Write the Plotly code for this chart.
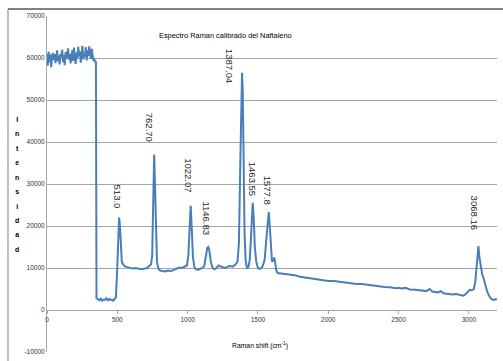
import plotly.graph_objects as go

# ---- data ----
plateau_x = list(range(0, 349, 6))
plateau_y = [61000, 58200, 61500, 59000, 60800, 57800, 60500, 61200, 59500, 60900,
             58800, 60300, 61800, 59200, 60600, 58500, 61000, 60200, 62000, 59000,
             60700, 58300, 61400, 59800, 60900, 62300, 59600, 61000, 58700, 60400,
             61900, 59300, 62500, 60100, 58600, 61300, 59900, 62700, 60400, 61600,
             58900, 60800, 62900, 59700, 61200, 60300, 62600, 59400, 61800, 60500,
             62800, 61000, 59800, 62200, 60600, 59300, 59800, 59000, 59200]

rest_x = [352, 362, 372, 382, 392, 402, 412, 422, 432, 442, 452, 462, 472, 482, 490,
          497, 505, 513, 519, 525, 532, 542, 555, 570, 590, 610, 630, 650, 670, 690,
          710, 725, 740, 748, 755, 762, 768, 775, 782, 792, 805, 820, 840, 860, 880,
          900, 920, 940, 960, 980, 995, 1005, 1013, 1022, 1030, 1038, 1048, 1060, 1075, 1090,
          1105, 1118, 1130, 1140, 1147, 1155, 1165, 1178, 1190, 1205, 1220, 1240, 1260, 1280, 1300,
          1320, 1340, 1355, 1365, 1374, 1382, 1387, 1392, 1398, 1405, 1413, 1422, 1432, 1442, 1450,
          1457, 1463, 1470, 1478, 1488, 1498, 1510, 1522, 1535, 1548, 1560, 1570, 1577, 1584, 1592,
          1600, 1608, 1616, 1622, 1630, 1640, 1660, 1680, 1700, 1730, 1760, 1800, 1840, 1880, 1920,
          1960, 2000, 2040, 2080, 2120, 2160, 2200, 2240, 2280, 2320, 2360, 2400, 2440, 2480, 2500,
          2520, 2550, 2580, 2620, 2660, 2700, 2720, 2740, 2780, 2800, 2820, 2850, 2880, 2910, 2940,
          2960, 2975, 2990, 3005, 3020, 3035, 3045, 3055, 3062, 3068, 3075, 3085, 3095, 3105, 3118,
          3130, 3142, 3155, 3168, 3180, 3192, 3200]
rest_y = [2800, 2600, 2300, 2700, 2200, 2500, 2400, 2800, 2300, 2600, 2400, 2500, 2200, 2700, 3000,
          8000, 15000, 22000, 20000, 14000, 11500, 10800, 10400, 10200, 10100, 9900, 10000, 9800, 9700, 9800,
          10000, 10400, 10900, 13000, 25000, 37000, 30000, 17000, 11500, 9800, 9400, 9300, 9200, 9400, 9300,
          9500, 9800, 10100, 10000, 10300, 10600, 13000, 20000, 24800, 19000, 12500, 10200, 9700, 9600, 9800,
          10000, 10400, 12500, 14800, 15000, 14000, 11500, 10000, 9700, 10000, 10600, 10300, 10000, 10200, 10500,
          10300, 10800, 11500, 16000, 34000, 52000, 56500, 52000, 34000, 18000, 11500, 10000, 10200, 12000, 17000,
          23000, 25500, 22000, 15000, 11500, 10200, 9800, 9900, 10500, 12000, 17000, 22000, 23300, 20000, 14000,
          11500, 11800, 12500, 11500, 9500, 8800, 8700, 8700, 8600, 8400, 8300, 7900, 7700, 7500, 7300,
          7100, 6900, 6900, 6700, 6500, 6400, 6200, 6200, 6000, 5800, 5700, 5500, 5400, 5200, 5300,
          5100, 5300, 4900, 4800, 4600, 4500, 5000, 4400, 4200, 4500, 4000, 3800, 3700, 3800, 3500,
          3400, 3700, 4300, 4800, 4700, 5000, 6500, 11000, 14500, 15200, 12500, 10000, 8500, 7500, 5800,
          4400, 3500, 2800, 2500, 2400, 2600, 2500]

raman_shift = plateau_x + rest_x
intensity = plateau_y + rest_y

peak_labels = ["513.0", "762.70", "1022.07", "1146.83", "1387.04", "1463.55", "1577.8", "3068.16"]

y_tickvals = [-10000, 0, 10000, 20000, 30000, 40000, 50000, 60000, 70000]
y_ticktext = ["-10000", "0", "10000", "20000", "30000", "40000", "50000", "60000", "70000"]
x_tickvals = [0, 500, 1000, 1500, 2000, 2500, 3000]
x_ticktext = ["0", "500", "1000", "1500", "2000", "2500", "3000"]

# ---- layout helpers (label placement) ----
label_pos = [(498, 27000), (726, 43600), (1010, 32100), (1138, 21800),
             (1295, 58100), (1459, 31200), (1566, 28600), (3039, 23100)]

FONT = "Liberation Sans, Arial, sans-serif"
GRID = "#a6a6a6"

fig = go.Figure()
fig.add_trace(go.Scatter(x=raman_shift, y=intensity, mode="lines",
                         line=dict(color="#4a7ebb", width=2), showlegend=False,
                         hoverinfo="skip"))

annotations = []
for txt, (lx, ly) in zip(peak_labels, label_pos):
    annotations.append(dict(x=lx, y=ly, xref="x", yref="y", text=txt, showarrow=False,
                            textangle=90, yanchor="middle",
                            font=dict(family=FONT, size=9.5, color="#262626")))

annotations.append(dict(x=0.3956, y=0.943, xref="paper", yref="paper", yanchor="middle",
                        text="Espectro Raman calibrado del Naftaleno", showarrow=False,
                        font=dict(family=FONT, size=7.4, color="#000000")))
annotations.append(dict(x=0.4733, y=0.018, xref="paper", yref="paper", yanchor="middle",
                        text="Raman shift (cm<sup>-1</sup>)", showarrow=False,
                        font=dict(family=FONT, size=6.8, color="#000000")))
ytitle = "<br>".join("<span style='font-size:7px'><b>%s</b></span>" % c for c in "Intensidad")
annotations.append(dict(x=-0.076, y=0.5, xref="paper", yref="paper", text=ytitle,
                        showarrow=False, yanchor="middle",
                        font=dict(family=FONT, size=11.1, color="#000000")))

fig.update_layout(
    width=503, height=361,
    margin=dict(l=47, r=6, t=16, b=9, autoexpand=False),
    paper_bgcolor="white", plot_bgcolor="white",
    annotations=annotations,
    xaxis=dict(range=[0, 3200], tickvals=x_tickvals, ticktext=x_ticktext,
               showgrid=False, zeroline=False, anchor="free", position=0.125,
               showline=True, linecolor=GRID, linewidth=1,
               ticks="outside", ticklen=3, tickcolor=GRID,
               tickfont=dict(family=FONT, size=6.5, color="#333333")),
    yaxis=dict(range=[-10000, 70000], tickvals=y_tickvals, ticktext=y_ticktext,
               showgrid=True, gridcolor=GRID, gridwidth=1, zeroline=False,
               showline=True, linecolor=GRID, linewidth=1, ticks="",
               tickfont=dict(family=FONT, size=6.5, color="#333333")),
    shapes=[
        dict(type="line", xref="paper", yref="paper", x0=-0.0867, x1=1.02, y0=1.0208, y1=1.0208,
             line=dict(color="#595959", width=1.5)),
        dict(type="line", xref="paper", yref="paper", x0=-0.0867, x1=-0.0867, y0=1.0208, y1=-0.05,
             line=dict(color="#7f7f7f", width=1)),
    ],
)

fig.write_html("out.html", config={"displayModeBar": False},
               post_script="document.body.style.margin='0';")
